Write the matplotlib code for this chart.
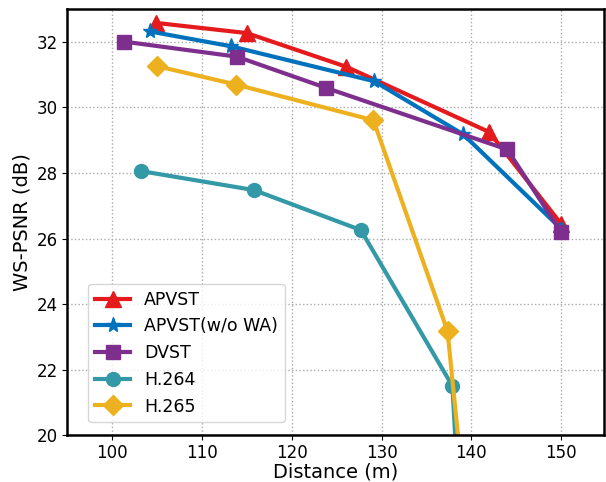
import numpy as np
import matplotlib.pyplot as plt

# Data
apvst_x = [104.9, 115.0, 126.1, 142.0, 150.0]
apvst_y = [32.58, 32.27, 31.24, 29.25, 26.45]

apvst_wo_x = [104.2, 113.2, 129.2, 139.1, 150.0]
apvst_wo_y = [32.32, 31.87, 30.80, 29.18, 26.30]

dvst_x = [101.3, 113.9, 123.8, 144.0, 150.0]
dvst_y = [32.01, 31.55, 30.60, 28.72, 26.20]

h264_x = [103.2, 115.8, 127.7, 137.9, 138.7]
h264_y = [28.06, 27.48, 26.26, 21.50, 17.50]

h265_x = [105.0, 113.8, 129.1, 137.35, 139.5]
h265_y = [31.26, 30.70, 29.61, 23.18, 17.30]


def createPlot():
    fig = plt.figure(figsize=(6.06, 4.82), dpi=100)
    ax = fig.add_axes([0.111, 0.097, 0.886, 0.884])

    ax.plot(apvst_x, apvst_y, color='#E41A1C', linewidth=3, marker='^', markersize=11, label='APVST')
    ax.plot(apvst_wo_x, apvst_wo_y, color='#0072BD', linewidth=3, marker='*', markersize=11, label='APVST(w/o WA)')
    ax.plot(dvst_x, dvst_y, color='#7E2F8E', linewidth=3, marker='s', markersize=10, label='DVST')
    ax.plot(h264_x, h264_y, color='#3399A6', linewidth=3, marker='o', markersize=10, label='H.264')
    ax.plot(h265_x, h265_y, color='#EDB120', linewidth=3, marker='D', markersize=10, label='H.265')

    ax.set_xlim(95, 154.8)
    ax.set_ylim(20, 33)
    ax.set_xticks(np.arange(100, 151, 10))
    ax.set_yticks(np.arange(20, 33, 2))
    ax.tick_params(labelsize=12, pad=3)
    ax.grid(linestyle=':', color='#AAAAAA', linewidth=1)
    for s in ax.spines.values():
        s.set_linewidth(1.8)

    ax.set_xlabel('Distance (m)', fontsize=14, labelpad=0)
    ax.set_ylabel('WS-PSNR (dB)', fontsize=14)
    ax.legend(loc='lower left', fontsize=12.5, borderaxespad=0,
              bbox_to_anchor=(0.039, 0.03))

    plt.savefig('out.png', dpi=100)


if __name__ == "__main__":
    createPlot()
